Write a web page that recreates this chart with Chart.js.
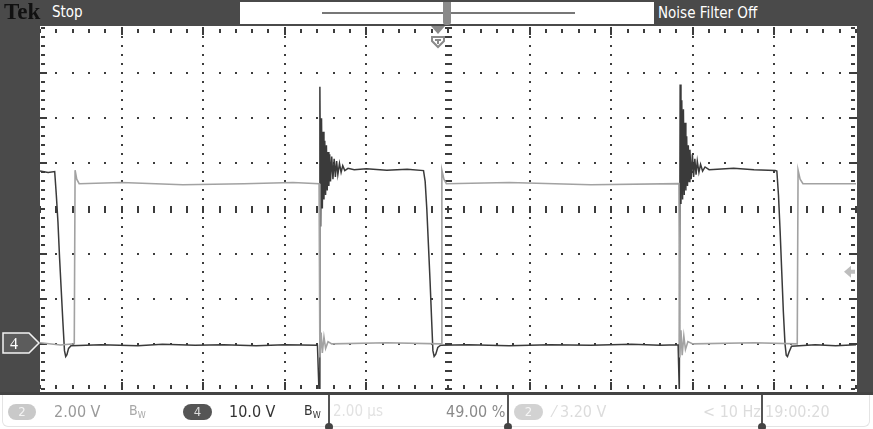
<!DOCTYPE html>
<html>
<head>
<meta charset="utf-8">
<script src="https://cdn.jsdelivr.net/npm/chart.js@4.4.1/dist/chart.umd.min.js"></script>
<style>
    body { margin: 0; background: #fff; }
    #scope { position: relative; width: 873px; height: 429px; overflow: hidden; background: #fff;
        font-family: "DejaVu Sans Condensed", "Liberation Sans Narrow", "DejaVu Sans", sans-serif; }
    #scope canvas { position: absolute; left: 0; top: 0; }
    .abs { position: absolute; white-space: nowrap; }
    .pill { position: absolute; height: 16px; border-radius: 8px; text-align: center; font-size: 13px; line-height: 16px; }
    .divider { position: absolute; top: 395px; width: 2px; height: 32px; background: #555; }
    .divider:after { content: ""; position: absolute; left: -3px; bottom: -4px; width: 8px; height: 8px; border-radius: 4px; background: #444; }
    sub { font-size: 9px; vertical-align: -3px; }
</style>
</head>
<body>
<div id="scope">
    <canvas id="scopeChart" width="873" height="429"></canvas>

    <!-- frame -->
    <div class="abs" style="left:0;top:0;width:873px;height:26px;background:#4a4a4a;"></div>
    <div class="abs" style="left:0;top:0;width:40px;height:395px;background:#4a4a4a;"></div>
    <div class="abs" style="left:857px;top:0;width:16px;height:395px;background:#4a4a4a;"></div>
    <div class="abs" style="left:0;top:392px;width:873px;height:3px;background:#444;"></div>

    <!-- top bar -->
    <div class="abs" style="left:4px;top:-1px;font-family:'Liberation Serif','DejaVu Serif',serif;font-weight:bold;font-size:23px;color:#111;">Tek</div>
    <div class="abs" style="left:52px;top:3px;font-size:15px;color:#fff;">Stop</div>
    <div class="abs" style="left:240px;top:2px;width:414px;height:22px;background:#fff;"></div>
    <div class="abs" style="left:322px;top:12px;width:253px;height:2px;background:#777;"></div>
    <div class="abs" style="left:443px;top:2px;width:8px;height:23px;background:#8a8a8a;border-radius:0 0 3px 3px;"></div>
    <div class="abs" style="left:658px;top:4px;font-size:15px;color:#fff;">Noise Filter Off</div>

    <!-- channel 4 ground marker -->
    <svg class="abs" style="left:2px;top:332px;" width="40" height="22">
        <polygon points="1,1 27,1 37,11 27,21 1,21" fill="#5c5c5c" stroke="#f2f2f2" stroke-width="1.5"/>
        <text x="8" y="17" font-family="Liberation Serif, DejaVu Serif, serif" font-size="16" fill="#fff">4</text>
    </svg>

    <!-- status bar -->
    <div class="abs" style="left:2px;top:395px;width:866px;height:31px;border:1px solid #e4e4e4;border-top:none;border-radius:0 0 6px 6px;"></div>
    <div class="pill" style="left:8px;top:404px;width:28px;background:#c9c9c9;color:#f4f4f4;">2</div>
    <div class="abs" style="left:54px;top:402px;font-size:16px;color:#9a9a9a;">2.00 V</div>
    <div class="abs" style="left:129px;top:402px;font-size:14px;color:#a8a8a8;">B<sub>W</sub></div>
    <div class="pill" style="left:183px;top:404px;width:29px;background:#555;color:#ddd;">4</div>
    <div class="abs" style="left:229px;top:402px;font-size:16px;color:#333;">10.0 V</div>
    <div class="abs" style="left:304px;top:402px;font-size:14px;color:#333;">B<sub>W</sub></div>
    <div class="divider" style="left:328px;"></div>
    <div class="abs" style="left:333px;top:402px;font-size:15px;color:#e2e2e2;">2.00 µs</div>
    <div class="abs" style="left:446px;top:402px;width:57px;text-align:right;font-size:16px;color:#8a8a8a;">49.00 %</div>
    <div class="divider" style="left:507px;"></div>
    <div class="pill" style="left:514px;top:404px;width:29px;background:#d2d2d2;color:#f6f6f6;">2</div>
    <div class="abs" style="left:553px;top:402px;font-size:16px;color:#dcdcdc;">⁄ 3.20 V</div>
    <div class="abs" style="left:703px;top:402px;font-size:16px;color:#dcdcdc;">&lt; 10 Hz</div>
    <div class="divider" style="left:761px;"></div>
    <div class="abs" style="left:765px;top:402px;font-size:16px;color:#dcdcdc;">19:00:20</div>
</div>

<script>
// time axis: 2.00 us/div, 10 divisions
const timeMin = 0;
const timeMax = 20;
const timeTicks = [0, 2, 4, 6, 8, 10, 12, 14, 16, 18, 20];
const triggerTime = 9.75;

// channel 4 (10.0 V/div), ground 3 div below centre
const ch4Time = [
    0.00, 0.20, 0.36, 0.40, 0.44, 0.48, 0.52, 0.56, 0.60, 0.63, 0.66, 0.70, 0.76,
    1.5, 2.4, 3.0, 3.8, 4.5, 5.3, 6.0, 6.80,
    6.84, 6.86, 6.88, 6.90, 6.92, 6.94, 6.96, 6.98, 7.00, 7.02, 7.04, 7.06, 7.08, 7.10, 7.12,
    7.15, 7.18, 7.21, 7.24, 7.27, 7.30, 7.34, 7.38, 7.42, 7.47, 7.55, 7.70,
    8.0, 8.5, 9.0, 9.40,
    9.44, 9.48, 9.52, 9.56, 9.60, 9.63, 9.66, 9.70, 9.75, 9.82,
    10.5, 11.5, 12.5, 13.5, 14.5, 15.2, 15.64,
    15.67, 15.69, 15.71, 15.73, 15.75, 15.77, 15.79, 15.81, 15.83, 15.85, 15.87, 15.89, 15.91, 15.93,
    15.96, 15.99, 16.02, 16.05, 16.08, 16.11, 16.15, 16.19, 16.24, 16.30, 16.40, 16.60,
    17.0, 17.5, 18.02,
    18.06, 18.10, 18.14, 18.18, 18.22, 18.26, 18.29, 18.32, 18.36, 18.42,
    19.0, 19.5, 20.0
];
const ch4Volts = [
    38.3, 38.0, 38.2, 33, 27, 19, 12, 5, -1.5, -2.8, -2.4, -1.0, -0.4,
    -0.2, -0.4, -0.1, -0.3, -0.2, -0.4, -0.2, -0.3,
    -11, 57, 26, 50, 30, 47, 32, 45, 33, 44, 34, 42.5, 35, 42, 36,
    41.5, 36.5, 41, 37, 40.5, 37.5, 40, 38, 39.5, 38.4, 38.9, 38.6,
    38.8, 38.5, 38.7, 38.4,
    36, 30, 22, 14, 5, -1.5, -2.8, -2.3, -0.8, -0.3,
    -0.2, -0.4, -0.2, -0.3, -0.1, -0.3, -0.2,
    -11, 57.5, 31, 54, 32, 52, 33, 49, 34, 46, 35, 44, 36, 43,
    36.5, 42, 37, 41, 37.5, 40.5, 38, 39.8, 38.3, 39.2, 38.6, 38.7,
    38.9, 38.6, 38.4,
    38.3, 33, 25, 16, 7, 0, -2.5, -2.8, -1.8, -0.5,
    -0.2, -0.4, -0.2
];

// channel 2 (2.00 V/div), ground 3 div below centre
const ch2Time = [
    0.00, 0.50, 0.84, 0.86, 0.90, 0.96, 2.0, 3.5, 5.0, 6.2, 6.84,
    6.86, 6.89, 6.92, 6.96, 7.00, 7.06, 7.15, 8.5, 9.83,
    9.85, 9.90, 9.96, 11.5, 13.5, 15.66,
    15.68, 15.71, 15.74, 15.78, 15.82, 15.88, 16.0, 17.5, 18.56,
    18.58, 18.63, 18.70, 20.0
];
const ch2Volts = [
    0.05, -0.05, 0.0, 7.7, 7.3, 7.1, 7.15, 7.05, 7.1, 7.15, 7.1,
    -0.6, 0.5, -0.4, 0.3, -0.2, 0.1, 0.0, 0.05, 0.0,
    7.7, 7.3, 7.1, 7.15, 7.05, 7.1,
    -0.6, 0.6, -0.5, 0.35, -0.25, 0.1, 0.0, 0.05, 0.0,
    7.7, 7.3, 7.1, 7.1
];

// vertical ranges (8 div, ground at -3 div)
const ch4Range = [-10, 70];
const ch2Range = [-2, 14];
const triggerLevel = 3.2;

function toPoints(xs, ys) {
    return xs.map((x, i) => ({ x: x, y: ys[i] }));
}

const graticule = {
    id: "graticule",
    beforeDatasetsDraw(chart) {
        const ctx = chart.ctx;
        const a = chart.chartArea;
        const xs = chart.scales.x;
        const divW = (a.right - a.left) / 10;
        const divH = (a.bottom - a.top) / 8;
        ctx.save();
        ctx.fillStyle = "#3c3c3c";

        // vertical dotted lines
        timeTicks.forEach((t, i) => {
            if (i === 0 || i === 10 || i === 5) return;
            const x = Math.round(xs.getPixelForValue(t));
            for (let k = 0; k <= 40; k++) {
                const y = a.top + k * divH / 5;
                ctx.fillRect(x - 1, Math.round(y) - 1, 2, 2);
            }
            ctx.fillRect(x - 1, a.top, 2, 7);
            ctx.fillRect(x - 1, a.bottom - 7, 2, 7);
        });
        // horizontal dotted lines
        for (let j = 1; j < 8; j++) {
            if (j === 4) continue;
            const y = Math.round(a.top + j * divH);
            for (let k = 0; k <= 50; k++) {
                const x = a.left + k * divW / 5;
                ctx.fillRect(Math.round(x) - 1, y - 1, 2, 2);
            }
            ctx.fillRect(a.left, y - 1, 7, 2);
            ctx.fillRect(a.right - 7, y - 1, 7, 2);
        }
        // centre cross with minor ticks
        const cx = Math.round(xs.getPixelForValue(10));
        const cy = Math.round(a.top + 4 * divH);
        for (let k = 0; k <= 40; k++) {
            const y = Math.round(a.top + k * divH / 5);
            ctx.fillRect(cx - 3, y - 1, 7, 2);
        }
        for (let k = 0; k <= 50; k++) {
            const x = Math.round(a.left + k * divW / 5);
            ctx.fillRect(x - 1, cy - 3, 2, 7);
        }
        // edge ticks
        for (let k = 0; k <= 50; k++) {
            const x = Math.round(a.left + k * divW / 5);
            ctx.fillRect(x - 1, a.top + 1, 2, 4);
            ctx.fillRect(x - 1, a.bottom - 4, 2, 4);
        }
        for (let k = 0; k <= 40; k++) {
            const y = Math.round(a.top + k * divH / 5);
            ctx.fillRect(a.left + 1, y - 1, 4, 2);
            ctx.fillRect(a.right - 5, y - 1, 4, 2);
        }
        ctx.restore();
    },
    afterDatasetsDraw(chart) {
        const ctx = chart.ctx;
        const a = chart.chartArea;
        const xs = chart.scales.x;
        ctx.save();
        // trigger position marker
        const tx = Math.round(xs.getPixelForValue(triggerTime));
        ctx.fillStyle = "#8a8a8a";
        ctx.beginPath();
        ctx.moveTo(tx - 7, a.top - 2);
        ctx.lineTo(tx + 7, a.top - 2);
        ctx.lineTo(tx, a.top + 6);
        ctx.closePath();
        ctx.fill();
        ctx.strokeStyle = "#8a8a8a";
        ctx.lineWidth = 2;
        ctx.beginPath();
        ctx.moveTo(tx - 6, a.top + 9);
        ctx.lineTo(tx + 6, a.top + 9);
        ctx.lineTo(tx + 6, a.top + 13);
        ctx.lineTo(tx, a.top + 19);
        ctx.lineTo(tx - 6, a.top + 13);
        ctx.closePath();
        ctx.stroke();
        ctx.fillRect(tx - 3, a.top + 11, 6, 2);
        ctx.fillRect(tx - 1, a.top + 11, 2, 5);
        // trigger level arrow
        const ty = chart.scales.y2.getPixelForValue(triggerLevel);
        ctx.fillStyle = "#bdbdbd";
        ctx.beginPath();
        ctx.moveTo(a.right - 12, ty);
        ctx.lineTo(a.right - 5, ty - 6);
        ctx.lineTo(a.right - 5, ty - 2);
        ctx.lineTo(a.right - 1, ty - 2);
        ctx.lineTo(a.right - 1, ty + 2);
        ctx.lineTo(a.right - 5, ty + 2);
        ctx.lineTo(a.right - 5, ty + 6);
        ctx.closePath();
        ctx.fill();
        ctx.restore();
    }
};

function drawScope() {
    const ctx = document.getElementById("scopeChart").getContext("2d");
    new Chart(ctx, {
        type: "line",
        data: {
            datasets: [{
                label: "CH2",
                data: toPoints(ch2Time, ch2Volts),
                yAxisID: "y2",
                borderColor: "#a2a2a2",
                borderWidth: 1.6,
                pointRadius: 0,
                tension: 0,
            }, {
                label: "CH4",
                data: toPoints(ch4Time, ch4Volts),
                yAxisID: "y4",
                borderColor: "#3a3a3a",
                borderWidth: 1.5,
                pointRadius: 0,
                tension: 0,
            }]
        },
        options: {
            responsive: false,
            animation: false,
            layout: { padding: { left: 40, right: 17, top: 28, bottom: 40 } },
            plugins: { legend: { display: false }, tooltip: { enabled: false } },
            scales: {
                x: { type: "linear", min: timeMin, max: timeMax, display: false },
                y4: { type: "linear", min: ch4Range[0], max: ch4Range[1], display: false },
                y2: { type: "linear", min: ch2Range[0], max: ch2Range[1], display: false },
            },
        },
        plugins: [graticule],
    });
}

document.addEventListener("DOMContentLoaded", drawScope);
</script>
</body>
</html>
